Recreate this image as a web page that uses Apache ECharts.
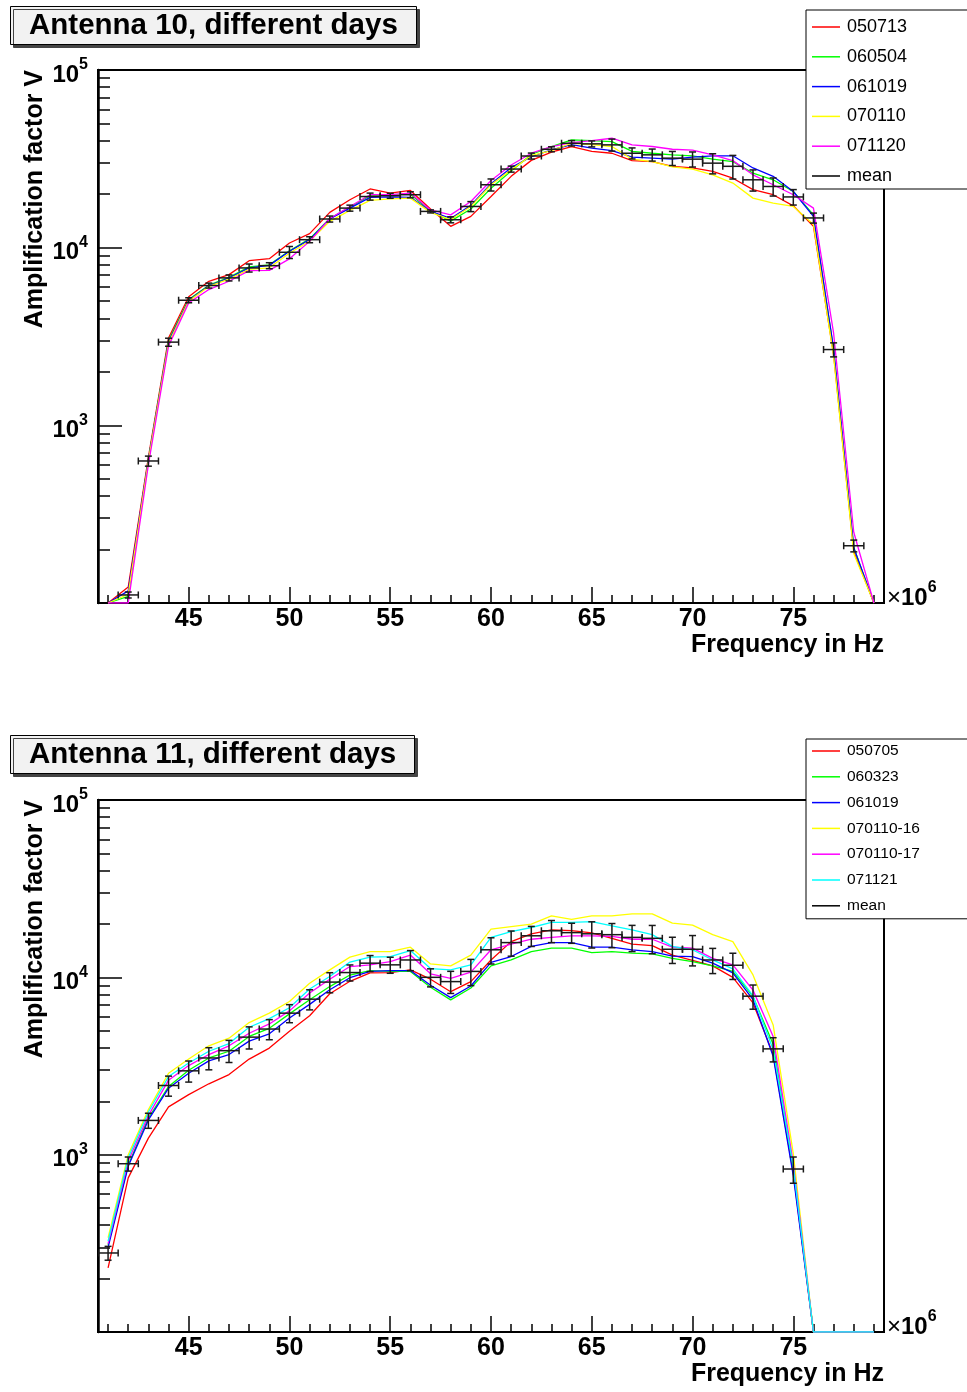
<!DOCTYPE html>
<html><head><meta charset="utf-8">
<script src="https://cdn.jsdelivr.net/npm/echarts@6/dist/echarts.min.js"></script>
<style>html,body{margin:0;padding:0;background:#fff}#c{width:967px;height:1392px}</style>
</head><body><div id="c"></div>
<script>
// ---------------- DATA ----------------
const freqMHz = [41,42,43,44,45,46,47,48,49,50,51,52,53,54,55,56,57,58,59,60,61,62,63,64,65,66,67,68,69,70,71,72,73,74,75,76,77,78,79];
const xErrMHz = 0.5;
const xMajorTicks = [45,50,55,60,65,70,75];
const xMinorTicks = [41,42,43,44,45,46,47,48,49,50,51,52,53,54,55,56,57,58,59,60,61,62,63,64,65,66,67,68,69,70,71,72,73,74,75,76,77,78,79];
const yLabelTicks = [1000,10000,100000];
const yMajorTicks = [100,1000,10000,100000];
const yMinorTicks = [200,300,400,500,600,700,800,900,2000,3000,4000,5000,6000,7000,8000,9000,20000,30000,40000,50000,60000,70000,80000,90000];

// Antenna 10
const titleA10 = 'Antenna 10, different days';
const namesA10 = ['050713','060504','061019','070110','071120'];
const a10_050713 = [100,123,660,3100,5290,6470,7050,8450,8670,10620,12000,15800,18600,21400,20280,21000,16500,13180,15000,19400,25200,31000,34500,37100,34800,34000,30900,30500,28700,28100,26900,24600,21200,19860,17200,13180,2500,195,100];
const a10_060504 = [100,109,640,3000,5100,6150,6800,7800,8000,9600,11200,14600,16900,19600,19900,20000,16100,14100,16500,21600,27000,33500,37000,40400,40000,39500,34800,34000,33300,32900,31500,30500,26300,24100,20700,15300,2650,205,100];
const a10_061019 = [100,117,640,2950,5050,6100,6750,7690,7950,9550,11100,14500,16700,19200,19300,19200,16000,14600,17300,22900,28200,32500,35500,38000,36300,35200,32300,31900,31500,32300,32900,32900,28100,25200,20700,15000,2700,205,100];
const a10_070110 = [100,112,630,2900,5000,6050,6650,7550,7700,9300,10900,14070,16200,18450,18800,19000,15800,14400,17060,22600,27400,33000,35200,38700,38000,37100,31500,30500,28500,27700,25700,23100,19000,17800,17060,13500,2450,190,100];
const a10_071120 = [100,100,600,2800,4890,5810,6470,7430,7450,8650,10850,14600,17060,19860,19900,20300,16300,15300,18200,23900,29200,34000,37000,39000,40000,41300,37900,37100,35800,35400,33300,30900,25700,22600,19860,16700,3300,250,100];
const a10_mean = [null,111,630,2940,5060,6120,6760,7690,7920,9420,11090,14500,16700,19400,19600,19860,16000,14360,17060,22600,27700,32800,35800,38700,38400,37900,34000,33300,31900,31500,29900,28700,24100,22100,19300,14700,2670,210,null];
const a10_meanErr = [null,4.3,41,153,164,198,263,399,308,733,431,564,650,881,635,773,311,559,1106,1759,1078,1276,1160,1355,1494,2949,2425,2591,2896,3064,3878,4356,3282,2580,1928,953,242,16,null];

// Antenna 11
const titleA11 = 'Antenna 11, different days';
const namesA11 = ['050705','060323','061019','070110-16','070110-17','071121'];
const a11_050705 = [230,740,1240,1860,2180,2510,2830,3460,3990,4960,6070,8080,9500,10590,10640,11020,9760,8300,9460,12530,15900,17600,18500,18360,17800,16600,15400,15100,13350,12450,11600,10000,7170,3680,790,100,100,100,100];
const a11_060323 = [310,875,1610,2420,2990,3510,3830,4640,5160,6220,7480,8870,10300,10920,10800,10800,8790,7460,8700,11600,12530,13970,14600,14600,13800,13970,13700,13550,12800,12260,11600,10800,7800,4190,840,100,100,100,100];
const a11_061019 = [300,860,1570,2370,2880,3380,3670,4370,4800,5900,7040,8510,9950,10800,10920,10920,9020,7680,8940,12150,13100,14950,15700,15700,14800,14800,14300,13970,13180,13100,12020,10590,7480,3590,760,100,100,100,100];
const a11_070110_16 = [340,1000,1795,2880,3460,4110,4540,5560,6280,7310,9270,11020,13000,13970,13970,14800,11900,11600,13350,18680,19300,19950,22200,21200,22200,22200,22800,22800,20200,19700,17400,15900,10320,5390,1010,100,100,100,100];
const a11_070110_17 = [315,920,1660,2630,3180,3670,4110,4840,5460,6470,8160,9760,11500,11760,12260,13350,10470,9870,10700,14300,15400,16400,16800,17150,17150,17000,16400,16400,14800,14600,12800,11760,8470,4640,890,100,100,100,100];
const a11_071121 = [325,960,1740,2760,3290,3830,4230,5230,5850,6740,8590,10100,12200,13000,13100,14150,11200,11020,11760,16800,18100,19100,20400,20400,20600,19500,18500,17400,14950,14300,12530,11150,7850,3920,850,100,100,100,100];
const a11_mean = [279,889,1560,2455,2970,3510,3860,4600,5110,6280,7530,9400,10640,12020,11760,12530,10000,9460,10800,14300,15700,17150,18300,17870,17600,17400,16800,16600,14400,14400,12530,11700,7830,3950,830,null,null,null,null];
const a11_meanErr = [25,81,152,318,404,501,551,656,663,733,977,1219,1104,1247,1220,1625,1167,1350,1821,2411,2545,2224,2611,2318,2968,2708,2833,3014,2428,2802,2031,1973,1219,615,140,null,null,null,null];

const xTitle = 'Frequency in Hz';
const yTitle = 'Amplification factor V';

// ---------------- CHART ----------------
const FONT = '"Liberation Sans", Arial, Helvetica, sans-serif';
const colorsA10 = ['#ff0000','#00ff00','#0000ff','#ffff00','#ff00ff'];
const colorsA11 = ['#ff0000','#00ff00','#0000ff','#ffff00','#ff00ff','#00ffff'];

const grids = [
  {left: 98, top: 70, width: 786, height: 533},
  {left: 98, top: 800, width: 786, height: 532}
];

function pairs(vals) { return freqMHz.map((f, i) => [f, vals[i]]); }
function meanTriples(vals, errs) {
  const out = [];
  freqMHz.forEach((f, i) => { if (vals[i] != null) out.push([f, vals[i], errs[i]]); });
  return out;
}

function renderErrorBar(params, api) {
  const x = api.value(0), y = api.value(1), e = api.value(2);
  const l = api.coord([x - xErrMHz, y]);
  const r = api.coord([x + xErrMHz, y]);
  const c = api.coord([x, y]);
  const t = api.coord([x, y + e]);
  const b = api.coord([x, y - e]);
  const cap = 3.5;
  const style = {stroke: '#1a1a1a', lineWidth: 1.5};
  return {type: 'group', children: [
    {type: 'line', shape: {x1: l[0], y1: l[1], x2: r[0], y2: r[1]}, style},
    {type: 'line', shape: {x1: c[0], y1: t[1], x2: c[0], y2: b[1]}, style},
    {type: 'line', shape: {x1: l[0], y1: l[1] - cap, x2: l[0], y2: l[1] + cap}, style},
    {type: 'line', shape: {x1: r[0], y1: r[1] - cap, x2: r[0], y2: r[1] + cap}, style},
    {type: 'line', shape: {x1: c[0] - cap, y1: t[1], x2: c[0] + cap, y2: t[1]}, style},
    {type: 'line', shape: {x1: c[0] - cap, y1: b[1], x2: c[0] + cap, y2: b[1]}, style}
  ]};
}

const xAxes = [], yAxes = [];
grids.forEach((g, gi) => {
  xAxes.push({
    type: 'value', gridIndex: gi, position: 'bottom', min: 40.5, max: 79.5,
    axisLine: {show: true, onZero: false, lineStyle: {color: '#000', width: 2}},
    axisTick: {show: true, inside: true, length: 16, customValues: xMajorTicks, lineStyle: {color: '#000', width: 1.5}},
    axisLabel: {show: true, customValues: xMajorTicks, color: '#000', fontSize: 25, fontWeight: 'bold', fontFamily: FONT, margin: 4},
    splitLine: {show: false}
  });
  xAxes.push({
    type: 'value', gridIndex: gi, position: 'bottom', min: 40.5, max: 79.5,
    axisLine: {show: false},
    axisTick: {show: true, inside: true, length: 8, customValues: xMinorTicks, lineStyle: {color: '#000', width: 1.5}},
    axisLabel: {show: false},
    splitLine: {show: false}
  });
  yAxes.push({
    type: 'log', logBase: 10, gridIndex: gi, position: 'left', min: 100, max: 100000,
    axisLine: {show: true, onZero: false, lineStyle: {color: '#000', width: 2.5}},
    axisTick: {show: true, inside: true, length: 24, customValues: yMajorTicks, lineStyle: {color: '#000', width: 1.5}},
    axisLabel: {
      show: true, customValues: yLabelTicks, margin: 10,
      formatter: v => '{b|10}{s|' + Math.round(Math.log10(v)) + '}',
      rich: {
        b: {fontSize: 24, fontWeight: 'bold', color: '#000', fontFamily: FONT, padding: [10, 0, 0, 0]},
        s: {fontSize: 16, fontWeight: 'bold', color: '#000', fontFamily: FONT, padding: [0, 0, 10, 0]}
      }
    },
    splitLine: {show: false}
  });
  yAxes.push({
    type: 'log', logBase: 10, gridIndex: gi, position: 'left', min: 100, max: 100000,
    axisLine: {show: false},
    axisTick: {show: true, inside: true, length: 12, customValues: yMinorTicks, lineStyle: {color: '#000', width: 1.5}},
    axisLabel: {show: false},
    splitLine: {show: false}
  });
});

const series = [];
const a10Vals = [a10_050713, a10_060504, a10_061019, a10_070110, a10_071120];
namesA10.forEach((n, i) => series.push({
  type: 'line', name: n, xAxisIndex: 0, yAxisIndex: 0, data: pairs(a10Vals[i]),
  symbol: 'none', showSymbol: false, clip: true,
  lineStyle: {width: 1.3, color: colorsA10[i]}, itemStyle: {color: colorsA10[i]}, z: 2
}));
series.push({
  type: 'custom', name: 'mean', xAxisIndex: 0, yAxisIndex: 0, data: meanTriples(a10_mean, a10_meanErr),
  renderItem: renderErrorBar, itemStyle: {color: '#000'}, encode: {x: 0, y: 1}, clip: true, z: 3
});
const a11Vals = [a11_050705, a11_060323, a11_061019, a11_070110_16, a11_070110_17, a11_071121];
namesA11.forEach((n, i) => series.push({
  type: 'line', name: n, xAxisIndex: 2, yAxisIndex: 2, data: pairs(a11Vals[i]),
  symbol: 'none', showSymbol: false, clip: true,
  lineStyle: {width: 1.3, color: colorsA11[i]}, itemStyle: {color: colorsA11[i]}, z: 2
}));
series.push({
  type: 'custom', name: 'mean', xAxisIndex: 2, yAxisIndex: 2, data: meanTriples(a11_mean, a11_meanErr),
  renderItem: renderErrorBar, itemStyle: {color: '#000'}, encode: {x: 0, y: 1}, clip: true, z: 3
});

function legendFor(names, top, fontSize, gap, pad) {
  return {
    orient: 'vertical', left: 806, top: top, selectedMode: false,
    data: names.concat(['mean']).map(n => ({name: n, icon: 'rect'})),
    itemWidth: 28, itemHeight: 1.5, itemGap: gap,
    backgroundColor: '#fff', borderColor: '#000', borderWidth: 1, padding: pad,
    textStyle: {fontSize: fontSize, lineHeight: fontSize, color: '#000', fontFamily: FONT, padding: [0, 0, 0, 2]},
    z: 10
  };
}

function titleBox(text, top) {
  return {
    text: text, left: 10, top: top,
    backgroundColor: '#f2f2f2', borderColor: '#000', borderWidth: 1,
    padding: [4, 19, 4, 19],
    shadowColor: '#444', shadowOffsetX: 3, shadowOffsetY: 3, shadowBlur: 0,
    textStyle: {fontSize: 29.5, lineHeight: 29, fontWeight: 'bold', color: '#000', fontFamily: FONT}
  };
}

function panelTexts(g) {
  const top = g.top, bottom = g.top + g.height, right = g.left + g.width;
  return [
    {type: 'text', x: 35, y: top, rotation: Math.PI / 2,
     style: {text: yTitle, align: 'right', verticalAlign: 'middle', font: 'bold 25px ' + FONT, fill: '#000'}},
    {type: 'text', x: right, y: bottom + 42,
     style: {text: xTitle, align: 'right', verticalAlign: 'middle', font: 'bold 25px ' + FONT, fill: '#000'}},
    {type: 'text', x: right + 3, y: bottom - 10,
     style: {text: '{m|\u00d7}{b|10}{s|6}', align: 'left', verticalAlign: 'middle',
       rich: {
         m: {fontSize: 24, fontFamily: FONT, fill: '#000', padding: [10, 0, 0, 0]},
         b: {fontSize: 24, fontWeight: 'bold', fontFamily: FONT, fill: '#000', padding: [10, 0, 0, 0]},
         s: {fontSize: 16, fontWeight: 'bold', fontFamily: FONT, fill: '#000', padding: [0, 0, 10, 0]}
       }}}
  ];
}

const chart = echarts.init(document.getElementById('c'), null, {renderer: 'canvas'});
chart.setOption({
  animation: false,
  backgroundColor: '#fff',
  title: [titleBox(titleA10, 7), titleBox(titleA11, 736)],
  legend: [legendFor(namesA10, 10, 18, 11.8, [8, 80, 4, 6]), legendFor(namesA11, 739, 15.5, 9.8, [4, 80, 5, 6])],
  grid: grids.map(g => Object.assign({show: true, borderColor: '#000', borderWidth: 2, backgroundColor: 'transparent', containLabel: false}, g)),
  xAxis: xAxes,
  yAxis: yAxes,
  series: series,
  graphic: panelTexts(grids[0]).concat(panelTexts(grids[1]))
});
</script>
</body></html>
